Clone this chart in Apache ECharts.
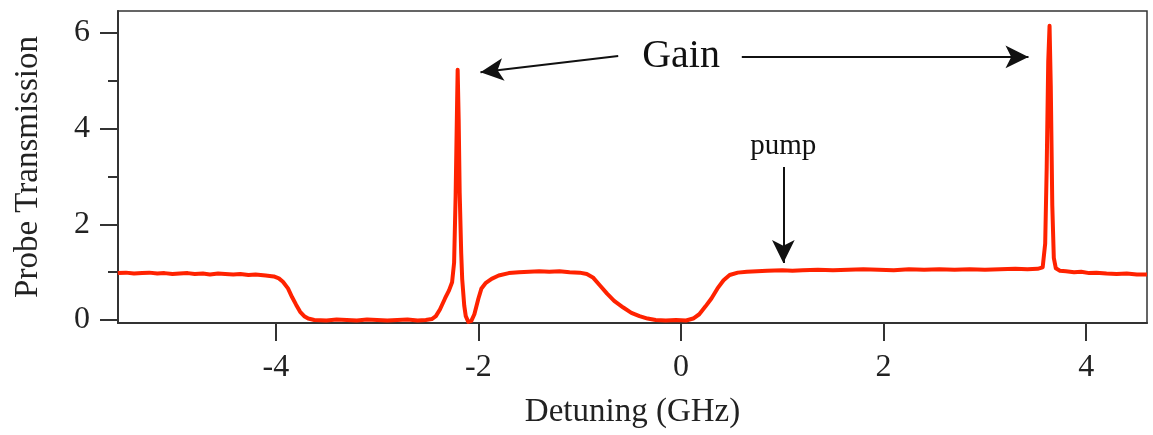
<!DOCTYPE html>
<html>
<head>
<meta charset="utf-8">
<script src="https://cdn.jsdelivr.net/npm/echarts@6/dist/echarts.min.js"></script>
<style>
html,body{margin:0;padding:0;background:#fff;}
#chart{width:1153px;height:435px;}
</style>
</head>
<body>
<div id="chart"></div>
<script>
// Detuning (GHz) values
const detuning = [
  -5.56,-5.48,-5.40,-5.32,-5.25,-5.17,-5.10,-5.02,-4.95,-4.87,-4.80,-4.72,-4.65,-4.57,-4.50,-4.42,-4.35,-4.27,-4.20,-4.10,-4.02,-3.97,-3.93,-3.88,-3.84,-3.80,-3.76,-3.72,-3.68,-3.62,
  -3.50,-3.40,-3.30,-3.20,-3.10,-3.00,-2.90,-2.80,-2.70,-2.60,-2.52,-2.46,-2.42,-2.38,-2.33,-2.29,-2.26,-2.24,-2.225,-2.21,-2.205,-2.195,-2.185,-2.17,-2.16,-2.14,-2.125,-2.10,-2.07,-2.04,
  -2.00,-1.97,-1.93,-1.87,-1.80,-1.70,-1.60,-1.50,-1.40,-1.30,-1.20,-1.10,-1.00,-0.93,-0.87,-0.80,-0.73,-0.66,-0.57,-0.49,-0.41,-0.33,-0.25,-0.15,-0.05,0.05,0.12,0.18,0.24,0.30,
  0.36,0.42,0.48,0.56,0.65,0.75,0.85,1.00,1.10,1.20,1.35,1.50,1.65,1.80,1.95,2.10,2.25,2.40,2.55,2.70,2.85,3.00,3.15,3.30,3.42,3.52,3.57,3.595,3.61,3.625,
  3.638,3.65,3.665,3.68,3.70,3.74,3.80,3.88,3.95,4.03,4.10,4.20,4.30,4.40,4.50,4.60
];
// Probe transmission values
const transmission = [
  0.98,0.99,0.97,0.98,0.99,0.97,0.98,0.96,0.97,0.98,0.96,0.97,0.95,0.97,0.96,0.95,0.96,0.94,0.95,0.93,0.91,0.87,0.80,0.66,0.48,0.32,0.17,0.08,0.03,0.00,
  -0.01,0.01,0.00,-0.01,0.01,0.00,-0.01,0.00,0.01,-0.01,0.00,0.02,0.08,0.22,0.45,0.62,0.79,1.20,2.60,4.60,5.23,4.20,2.66,1.40,0.85,0.30,0.08,-0.04,-0.02,0.12,
  0.45,0.66,0.77,0.86,0.93,0.98,1.00,1.01,1.02,1.01,1.02,1.00,0.99,0.96,0.89,0.72,0.55,0.40,0.26,0.15,0.08,0.03,0.00,-0.01,0.00,-0.01,0.03,0.12,0.28,0.45,
  0.66,0.83,0.94,0.99,1.01,1.02,1.03,1.04,1.03,1.04,1.05,1.04,1.05,1.06,1.05,1.04,1.06,1.05,1.06,1.05,1.06,1.05,1.06,1.07,1.06,1.07,1.10,1.60,3.20,5.40,
  6.15,4.90,2.40,1.30,1.08,1.03,1.02,1.00,1.01,0.98,0.99,0.97,0.96,0.97,0.95,0.95
];
const xLabelValues = [-4, -2, 0, 2, 4];
const yLabelValues = [0, 2, 4, 6];
const yMinorValues = [1, 3, 5];

const points = detuning.map((x, i) => [x, transmission[i]]);
const FONT = '"Liberation Serif", "DejaVu Serif", serif';
const INK = '#222';

const chart = echarts.init(document.getElementById('chart'), null, {renderer: 'canvas'});
chart.setOption({
  animation: false,
  backgroundColor: '#fff',
  grid: {
    left: 118, right: 6, top: 11, bottom: 112,
    show: true, borderColor: '#333', borderWidth: 1.5,
    outerBoundsMode: 'none', containLabel: false
  },
  xAxis: {
    type: 'value', min: -5.558, max: 4.600,
    name: 'Detuning (GHz)', nameLocation: 'middle', nameGap: 73,
    nameTextStyle: {fontFamily: FONT, fontSize: 33, color: INK},
    axisLine: {show: true, onZero: false, lineStyle: {color: '#333', width: 2}},
    axisTick: {show: true, inside: false, length: 18, customValues: xLabelValues, lineStyle: {color: '#333', width: 2}},
    axisLabel: {show: true, margin: 29, customValues: xLabelValues, fontFamily: FONT, fontSize: 32, color: INK},
    splitLine: {show: false}
  },
  yAxis: [{
    type: 'value', min: -0.063, max: 6.46,
    name: 'Probe Transmission', nameLocation: 'middle', nameGap: 73,
    nameTextStyle: {fontFamily: FONT, fontSize: 33, color: INK},
    axisLine: {show: true, onZero: false, lineStyle: {color: '#333', width: 2}},
    axisTick: {show: true, inside: false, length: 18, customValues: yLabelValues, lineStyle: {color: '#333', width: 2}},
    axisLabel: {show: true, margin: 28, customValues: yLabelValues, fontFamily: FONT, fontSize: 32, color: INK},
    splitLine: {show: false}
  }, {
    type: 'value', min: -0.063, max: 6.46, position: 'left', offset: 0,
    axisLine: {show: false, onZero: false},
    axisTick: {show: true, inside: false, length: 10, customValues: yMinorValues, lineStyle: {color: '#333', width: 2}},
    axisLabel: {show: false},
    splitLine: {show: false}
  }],
  series: [{
    type: 'line',
    data: points,
    showSymbol: false,
    symbol: 'none',
    lineStyle: {color: '#ff2200', width: 4, join: 'round'},
    z: 3,
    markLine: {
      silent: true,
      symbol: ['none', 'arrow'],
      symbolSize: [17, 23],
      label: {show: false},
      lineStyle: {color: '#111', width: 2, type: 'solid'},
      data: [
        [{coord: [-0.62, 5.52]}, {coord: [-1.98, 5.18]}],
        [{coord: [0.60, 5.50]}, {coord: [3.43, 5.50]}],
        [{coord: [1.01, 3.20]}, {coord: [1.01, 1.19]}]
      ]
    },
    markPoint: {
      silent: true,
      symbol: 'circle',
      symbolSize: 0,
      data: [
        {coord: [0, 5.50], label: {show: true, position: 'inside', formatter: 'Gain', fontFamily: FONT, fontSize: 40, color: '#111'}},
        {coord: [1.01, 3.62], label: {show: true, position: 'inside', formatter: 'pump', fontFamily: FONT, fontSize: 29, color: '#111'}}
      ]
    }
  }]
});
</script>
</body>
</html>
